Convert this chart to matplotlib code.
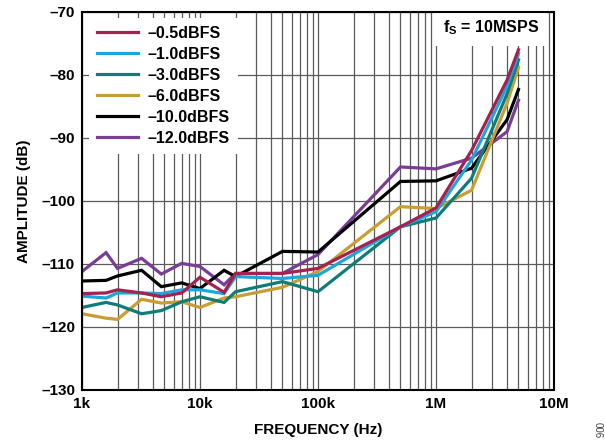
import numpy as np
import matplotlib
matplotlib.use('Agg')
import matplotlib.pyplot as plt
from matplotlib.ticker import FixedLocator, NullFormatter

plt.rcParams['font.family'] = 'Liberation Sans'
plt.rcParams['font.weight'] = 'bold'
plt.rcParams['mathtext.fontset'] = 'custom'
plt.rcParams['mathtext.bf'] = 'Liberation Sans:bold'
plt.rcParams['mathtext.rm'] = 'Liberation Sans:bold'

# frequencies of the measured points (Hz)
freq = [1e3, 1.6e3, 2e3, 3.2e3, 4.7e3, 7e3, 10e3, 16e3, 20e3, 50e3, 100e3,
        500e3, 1e6, 2e6, 4e6, 5e6]

amp_05 = [-114.7, -114.6, -114.1, -114.6, -115.2, -114.6, -112.1, -114.5, -111.5,
          -111.5, -110.7, -104.1, -101.1, -92.0, -80.8, -76.0]
amp_10 = [-115.1, -115.4, -114.6, -114.6, -114.7, -114.1, -114.1, -114.7, -112.0,
          -112.3, -111.8, -104.1, -101.7, -93.5, -81.8, -76.6]
amp_30 = [-116.9, -116.1, -116.5, -117.9, -117.4, -116.0, -115.2, -116.1, -114.4,
          -112.8, -114.4, -104.1, -102.7, -96.4, -83.0, -77.6]
amp_60 = [-117.9, -118.6, -118.8, -115.6, -116.2, -116.0, -116.9, -115.4, -115.2,
          -113.7, -111.2, -100.9, -101.2, -98.3, -84.5, -78.8]
amp_100 = [-112.7, -112.6, -111.9, -111.0, -113.6, -113.0, -113.9, -111.0, -112.0,
           -108.0, -108.1, -96.9, -96.8, -94.8, -87.1, -82.3]
amp_120 = [-111.2, -108.2, -110.7, -109.1, -111.6, -109.9, -110.4, -113.3, -111.5,
           -111.5, -108.5, -94.6, -94.9, -93.2, -89.0, -84.0]

labels = ['\u20130.5dBFS', '\u20131.0dBFS', '\u20133.0dBFS', '\u20136.0dBFS',
          '\u201310.0dBFS', '\u201312.0dBFS']
series = [amp_05, amp_10, amp_30, amp_60, amp_100, amp_120]
colors = ['#A3224F', '#1AA7DD', '#0E7C78', '#C99D33', '#000000', '#7A3D96']

y_ticks = [-130, -120, -110, -100, -90, -80, -70]
x_ticks = [1e3, 1e4, 1e5, 1e6, 1e7]
x_labels = ['1k', '10k', '100k', '1M', '10M']

fig = plt.figure(figsize=(6.05, 4.46), dpi=100, facecolor='white')
ax = fig.add_axes([0.1355, 0.1256, 0.7802, 0.8475])

handles = []
for i in range(len(series) - 1, -1, -1):
    h, = ax.plot(freq, series[i], color=colors[i], lw=2.3, solid_joinstyle='miter',
                 zorder=3 + (len(series) - i))
    handles.insert(0, h)

ax.set_xscale('log')
ax.set_xlim(1e3, 1e7)
ax.set_ylim(-130, -70)

ax.xaxis.set_major_locator(FixedLocator(x_ticks))
ax.set_xticklabels(x_labels)
minors = [m * 10 ** d for d in range(3, 7) for m in range(2, 10)]
ax.xaxis.set_minor_locator(FixedLocator(minors))
ax.xaxis.set_minor_formatter(NullFormatter())
ax.set_yticks(y_ticks)
ax.set_yticklabels(['\u2013' + str(-v) for v in y_ticks])

ax.grid(True, which='both', axis='x', color='#5a5a5a', lw=0.9)
ax.grid(True, which='major', axis='y', color='#5a5a5a', lw=0.9)
ax.tick_params(which='both', length=0, labelsize=11, pad=5)
for s in ax.spines.values():
    s.set_linewidth(1.5)
    s.set_color('black')
    s.set_zorder(20)

ax.set_xlabel('FREQUENCY (Hz)', fontsize=11, fontweight='bold', labelpad=9)
ax.set_ylabel('AMPLITUDE (dB)', fontsize=11, fontweight='bold', labelpad=7)

leg = ax.legend(handles, labels, loc='upper left', bbox_to_anchor=(0.0148, 0.984),
                frameon=True, fancybox=False, edgecolor='none', facecolor='white',
                framealpha=1, fontsize=11.5, handlelength=2.6, handletextpad=0.56,
                labelspacing=0.37, borderaxespad=0.0, borderpad=0.5)
leg.set_zorder(15)
for t in leg.get_texts():
    t.set_fontweight('bold')

ax.text(0.968, 0.958, r'$\mathbf{f_S}$ = 10MSPS', transform=ax.transAxes,
        ha='right', va='center', fontsize=11.5, fontweight='bold', zorder=16,
        bbox=dict(facecolor='white', edgecolor='none', pad=6))

fig.text(0.987, 0.035, '006', rotation=270, fontsize=7, color='#444444',
         fontweight='normal', ha='center', va='center')

fig.savefig('out.png', dpi=100)
